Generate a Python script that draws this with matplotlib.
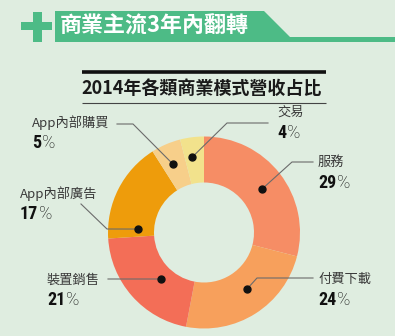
import numpy as np
import matplotlib.pyplot as plt
import matplotlib.patches as mpatches

W, H = 395, 336

# data
segments = ["服務", "付費下載", "裝置銷售", "App內部廣告", "App內部購買", "交易"]
shares = [29, 24, 21, 17, 5, 4]
colors = ["#F68D65", "#F7A05C", "#F36E57", "#EE9C0B", "#F7CF8A", "#F2E28C"]

TITLE = "商業主流3年內翻轉"
SUBTITLE = "2014年各類商業模式營收占比"

BG = "#DFEDE0"
GREEN = "#4DBB86"
CJK = ["Noto Sans CJK TC", "DejaVu Sans"]
NUM = ["Roboto Condensed", "Roboto", "DejaVu Sans"]

# layout (pixel coords, y down): dot nudge (deg), dot radius, elbow, line end, text left x, label y, number y
LAYOUT = [
    (-1, 72, (292, 162), (313, 162), 318, 162, 183),
    (5, 71, (257, 278), (313, 278), 318, 279, 300),
    (6, 63, (162, 279), (108, 279), 47, 280, 300),
    (24, 66, (107, 229), (81, 204), 20, 194, 214),
    (1, 75, (133, 124), (117, 124), 32, 123, 143),
    (2, 76, (227, 123), (268, 123), 277, 112, 133),
]
CX, CY, R, RING = 204, 232.5, 96, 46


def Y(y):
    return H - y


fig = plt.figure(figsize=(W / 100, H / 100), dpi=100)
fig.patch.set_facecolor(BG)
ax = fig.add_axes([0, 0, 1, 1])
ax.set_facecolor(BG)

# header: cross + tab
ax.add_patch(mpatches.Rectangle((33, Y(42)), 9, 30, color=GREEN, lw=0))
ax.add_patch(mpatches.Rectangle((21, Y(30)), 31, 8, color=GREEN, lw=0))
tab = [(55, 11), (264, 11), (290, 37), (395, 37), (395, 42), (55, 42)]
ax.add_patch(mpatches.Polygon([(x, Y(y)) for x, y in tab], closed=True, color=GREEN, lw=0))
ax.text(60, Y(26), TITLE, family=CJK, weight="bold", fontsize=15.8, color="white",
        ha="left", va="center")

# subtitle with rules
ax.plot([82, 326], [Y(71.5), Y(71.5)], color="#111111", lw=2.6, solid_capstyle="butt")
ax.plot([82, 326], [Y(103), Y(103)], color="#444444", lw=0.8, solid_capstyle="butt")
ax.text(81, Y(88), SUBTITLE, family=CJK, weight="bold", fontsize=13, color="#1a1a1a",
        ha="left", va="center")

# donut
wedges, _ = ax.pie(shares, colors=colors, startangle=90, counterclock=False,
                   center=(CX, Y(CY)), radius=R,
                   wedgeprops=dict(width=RING, linewidth=0))

for w, name, val, lay in zip(wedges, segments, shares, LAYOUT):
    nudge, rr, elbow, end, tx, ly, ny = lay
    ang = np.deg2rad((w.theta1 + w.theta2) / 2 + nudge)
    dx, dy = CX + rr * np.cos(ang), Y(CY) + rr * np.sin(ang)
    ax.plot([dx, elbow[0], end[0]], [dy, Y(elbow[1]), Y(end[1])],
            color="#6b6b6b", lw=0.8, zorder=3)
    ax.plot(dx, dy, "o", color="#111111", ms=5, zorder=4)
    ax.text(tx, Y(ly), name, family=CJK, fontsize=9.5, color="#3a3a3a",
            ha="left", va="center")
    t = ax.text(tx, Y(ny), str(val), family=NUM, weight="bold", fontsize=13,
                color="#111111", ha="left", va="center")
    ax.annotate("%", xy=(1, 0.5), xycoords=t, xytext=(0.5, 0), textcoords="offset points",
                family=["Roboto", "DejaVu Sans"], weight="light", fontsize=13,
                color="#111111", ha="left", va="center")

ax.set_xlim(0, W)
ax.set_ylim(0, H)
ax.set_aspect("auto")
ax.axis("off")

fig.savefig("out.png", dpi=100, facecolor=BG)
